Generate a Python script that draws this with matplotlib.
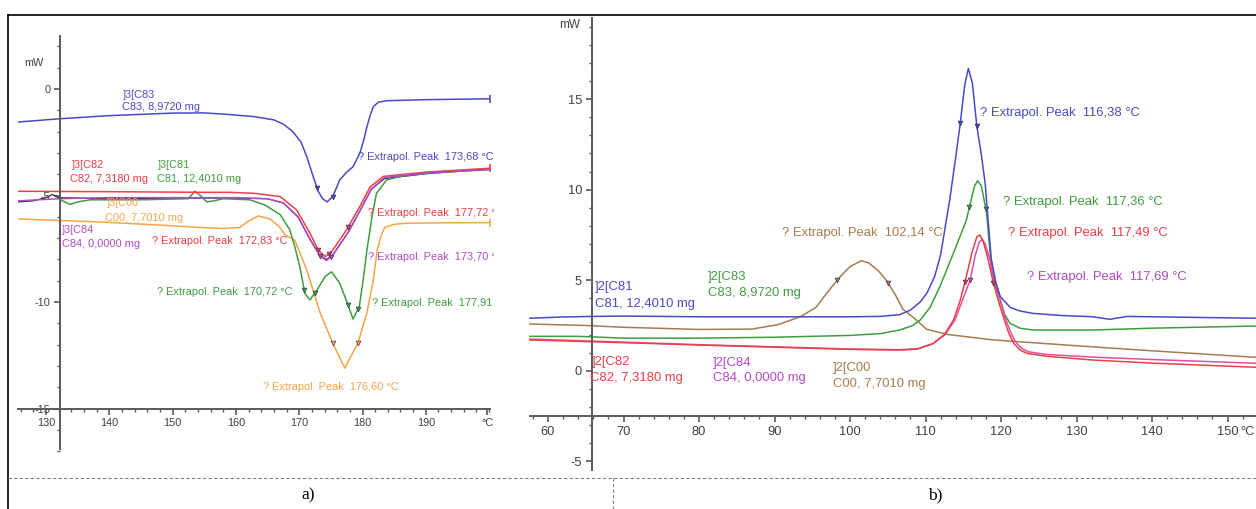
import numpy as np
import matplotlib.pyplot as plt
from matplotlib.lines import Line2D
from matplotlib.ticker import MultipleLocator

plt.rcParams['font.family'] = ['Liberation Sans', 'DejaVu Sans']
plt.rcParams['axes.unicode_minus'] = False

# ---------- панель a) : плавление, 125..200 °C ----------
c83_a_t = [125.6, 132, 140, 150, 155, 159, 163, 166, 167.5, 169, 170.3, 171.2, 172.2, 173, 173.7,
           174.4, 175.3, 176.4, 177.5, 178.5, 179.6, 180.2, 180.7, 181.2, 181.7, 182.5, 183.8, 190, 200.1]
c83_a_mw = [-1.55, -1.4, -1.25, -1.13, -1.12, -1.2, -1.3, -1.45, -1.65, -2.0, -2.5, -3.18, -4.1, -4.8, -5.15,
            -5.3, -5.05, -4.27, -3.9, -3.65, -3.0, -2.4, -1.77, -1.25, -0.83, -0.62, -0.55, -0.5, -0.46]

c82_a_t = [125.6, 140, 155, 159, 163, 167, 169.6, 171.7, 173, 174.1, 175.2, 175.9, 177.5, 179.6, 181.2,
           183.3, 190, 200.1]
c82_a_mw = [-4.8, -4.82, -4.85, -4.85, -4.9, -5.05, -5.68, -6.77, -7.56, -7.87, -7.6, -7.3, -6.6, -5.5, -4.6,
            -4.1, -3.9, -3.72]

c84_a_t = [125.6, 132, 140, 150, 160, 165, 167.5, 169.8, 171.8, 173.2, 174.3, 175.3, 176.2, 177.8, 179.8,
           181.4, 183.5, 190, 200.1]
c84_a_mw = [-5.25, -5.15, -5.1, -5.1, -5.1, -5.15, -5.35, -6.0, -7.1, -7.8, -8.05, -7.8, -7.4, -6.7, -5.6,
            -4.7, -4.15, -3.95, -3.78]

# тёмная кривая, почти совпадающая с C84
base_a_t = [125.6, 128, 130, 131, 132, 140, 150, 160, 165, 167.5, 169.8, 171.8, 173.2, 174.3, 175.3,
            176.2, 177.8, 179.8, 181.4, 183.5, 190, 200.1]
base_a_mw = [-5.3, -5.25, -5.1, -4.95, -5.1, -5.15, -5.12, -5.12, -5.15, -5.35, -6.0, -7.1, -7.8, -8.0, -7.8,
             -7.4, -6.7, -5.6, -4.7, -4.2, -3.98, -3.74]

c81_a_t = [132.2, 133, 133.8, 135, 137, 145, 152.5, 153.5, 154.4, 155.4, 156.5, 158, 162.2, 164.6, 167,
           168.5, 169.3, 170.1, 170.9, 171.7, 172.8, 174.1, 175.1, 176.4, 177.8, 178.5, 179.5, 180.1, 180.7,
           181.5, 182.2, 183.8, 186, 190, 200.1]
c81_a_mw = [-5.2, -5.3, -5.42, -5.3, -5.2, -5.2, -5.15, -4.8, -5.0, -5.3, -5.25, -5.15, -5.2, -5.45, -5.9,
            -6.6, -7.4, -8.34, -9.6, -9.9, -9.44, -8.8, -8.58, -9.12, -10.2, -10.8, -10.2, -8.97, -7.56,
            -6.0, -4.9, -4.27, -4.1, -3.95, -3.78]

c00_a_t = [125.6, 138.5, 150, 154.3, 158, 160.6, 162, 163.5, 165.4, 166.8, 167.8, 169.3, 171.2, 173.3, 175.4,
           177.2, 179.3, 180.7, 181.7, 182.3, 182.9, 183.5, 185, 187, 193, 200.1]
c00_a_mw = [-6.1, -6.24, -6.42, -6.5, -6.55, -6.5, -6.2, -5.96, -6.1, -6.45, -6.85, -7.1, -8.5, -10.5, -12.0,
            -13.1, -11.9, -10.5, -8.97, -7.6, -6.9, -6.5, -6.35, -6.3, -6.28, -6.27]

# границы пиков (маркеры)
c83_a_marks = [172.8, 175.3]
c82_a_marks = [173.0, 174.7, 177.7]
c84_a_marks = [173.3, 175.0]
c81_a_marks = [170.8, 172.5, 177.7, 179.3]
c00_a_marks = [175.3, 179.3]

# ---------- панель b) : кристаллизация, 57..154 °C ----------
c81_b_t = [57.6, 62, 66, 70, 80, 90, 100, 104, 106.6, 108, 109.3, 110.2, 111.2, 112.0, 113.2, 114.0, 114.6,
           115.2, 115.67, 116.2, 116.8, 117.4, 117.9, 118.7, 119.3, 119.9, 121.2, 122.5, 124.2, 128, 132.2,
           134.4, 136.7, 145, 153.8]
c81_b_mw = [2.9, 2.97, 3.0, 3.02, 2.98, 2.98, 2.98, 3.0, 3.1, 3.35, 3.8, 4.3, 5.2, 6.4, 9.43, 11.8, 13.67,
            15.8, 16.7, 15.9, 13.5, 11.9, 10.35, 6.2, 4.9, 4.1, 3.5, 3.3, 3.17, 3.05, 2.98,
            2.84, 3.0, 2.95, 2.9]

c83_b_t = [57.6, 64, 67, 70, 80, 90, 100, 104, 106.6, 108.3, 109.3, 110.6, 111.9, 113.7, 115.4, 115.9, 116.5,
           116.9, 117.4, 118.1, 118.7, 119.3, 119.9, 120.5, 121.2, 122.5, 124.2, 132.2, 140, 153.8]
c83_b_mw = [1.9, 1.9, 1.85, 1.8, 1.8, 1.85, 1.95, 2.05, 2.25, 2.5, 2.8, 3.5, 4.64, 6.5, 8.3, 9.2, 10.2,
            10.5, 10.2, 8.7, 5.75, 4.6, 3.9, 3.1, 2.62, 2.35, 2.25, 2.25, 2.35, 2.47]

c82_b_t = [57.6, 70, 80, 90, 100, 106.6, 109, 111, 112.5, 113.7, 114.6, 115.4, 116.2, 116.8, 117.2, 117.6,
           118.2, 119, 119.7, 120.3, 121.0, 121.7, 122.5, 123.4, 126, 132.2, 140, 153.8]
c82_b_mw = [1.7, 1.55, 1.42, 1.3, 1.18, 1.14, 1.2, 1.5, 2.0, 2.8, 3.9, 5.2, 6.6, 7.4, 7.5, 7.2,
            6.3, 4.83, 3.8, 2.98, 2.1, 1.5, 1.15, 0.96, 0.8, 0.59, 0.42, 0.19]

c84_b_t = [57.6, 70, 80, 90, 100, 106.6, 109, 111, 112.6, 113.9, 114.9, 115.9, 116.6, 117.1, 117.5, 117.9,
           118.5, 119.2, 119.9, 120.5, 121.2, 121.9, 122.7, 123.6, 126, 132.2, 140, 153.8]
c84_b_mw = [1.75, 1.58, 1.44, 1.32, 1.2, 1.16, 1.22, 1.5, 2.0, 2.8, 3.9, 5.0, 6.4, 7.1, 7.25, 7.0,
            6.2, 4.9, 3.9, 3.0, 2.2, 1.6, 1.25, 1.05, 0.9, 0.75, 0.62, 0.41]

c00_b_t = [57.6, 65, 70, 80, 87, 90.5, 93.4, 95.5, 96.9, 98.7, 100, 101.5, 102.5, 103.8, 104.8, 106, 107,
           108.8, 110.1, 111, 113, 115.4, 119, 130, 140, 153.8]
c00_b_mw = [2.58, 2.5, 2.4, 2.28, 2.3, 2.55, 2.98, 3.5, 4.28, 5.2, 5.75, 6.08, 5.95, 5.5, 5.0, 4.2, 3.4,
            2.8, 2.3, 2.2, 2.0, 1.88, 1.7, 1.38, 1.1, 0.74]

c81_b_marks = [114.6, 116.8]
c83_b_marks = [115.8, 118.0]
c82_b_marks = [115.2, 119.0]
c84_b_marks = [115.9]
c00_b_marks = [98.3, 105.0]

BLUE = '#4a4ac4'
RED = '#ea3f48'
GREEN = '#3e9e3e'
ORANGE = '#f5a546'
PURPLE = '#b24ac6'
PINK = '#de4fa2'
BROWN = '#a77b4f'
AXIS = '#5a5a5a'
TXT = '#404040'

W, H = 1256, 509
fig = plt.figure(figsize=(W / 100, H / 100), dpi=100)


def rect(x0, y0, x1, y1):
    return [x0 / W, 1 - y1 / H, (x1 - x0) / W, (y1 - y0) / H]


def style_axes(ax, xcross, ycross, ybounds, xbounds, fs):
    for s in ('top', 'right'):
        ax.spines[s].set_visible(False)
    ax.spines['left'].set_position(('data', xcross))
    ax.spines['bottom'].set_position(('data', ycross))
    ax.spines['left'].set_bounds(*ybounds)
    ax.spines['bottom'].set_bounds(*xbounds)
    for s in ('left', 'bottom'):
        ax.spines[s].set_color(AXIS)
        ax.spines[s].set_linewidth(1.4)
    ax.tick_params(which='both', colors=AXIS, labelcolor=TXT, labelsize=fs, direction='out')
    ax.tick_params(which='major', length=4.5, width=1.2, pad=2.5)
    ax.tick_params(which='minor', length=2.5, width=1.0)
    ax.patch.set_visible(False)


def curve(ax, t, mw, color, marks=None, end=False, lw=1.1):
    ax.plot(t, mw, color=color, lw=lw)
    if marks:
        ax.plot(marks, np.interp(marks, t, mw), 'v', color=color, ms=3.5, mec='#202050', mew=0.4)
    if end:
        ax.plot(t[-1], mw[-1], '|', color=color, ms=6, mew=1.2)


# ---------- a) ----------
ax = fig.add_axes(rect(18, 30, 494, 455))
ax.set_xlim(125.58, 200.77)
ax.set_ylim(-17.18, 2.77)
style_axes(ax, 132.2, -15, (-16.9, 2.5), (125.6, 200.1), 7.8)
ax.set_xticks([130, 140, 150, 160, 170, 180, 190, 199.7], ['130', '140', '150', '160', '170', '180', '190', '°C'])
ax.xaxis.set_minor_locator(MultipleLocator(2))
ax.set_yticks([0, -5, -10, -15], ['0', '-5', '-10', '-15'])
ax.yaxis.set_minor_locator(MultipleLocator(1))
ax.text(129.6, 1.22, 'mW', ha='right', va='center', fontsize=7.8, color=TXT)

curve(ax, base_a_t, base_a_mw, '#303030', lw=0.9)
curve(ax, c00_a_t, c00_a_mw, ORANGE, c00_a_marks, end=True)
curve(ax, c81_a_t, c81_a_mw, GREEN, c81_a_marks)
curve(ax, c82_a_t, c82_a_mw, RED, c82_a_marks, end=True)
curve(ax, c84_a_t, c84_a_mw, PURPLE, c84_a_marks)
curve(ax, c83_a_t, c83_a_mw, BLUE, c83_a_marks, end=True)

fa = 7.9
labels_a = [
    (142.16, -0.28, ']3[C83', BLUE), (142.0, -0.85, 'C83, 8,9720 mg', BLUE),
    (179.29, -3.19, '? Extrapol. Peak  173,68 °C', BLUE),
    (134.1, -3.57, ']3[C82', RED), (133.8, -4.23, 'C82, 7,3180 mg', RED),
    (147.7, -3.57, ']3[C81', GREEN), (147.5, -4.23, 'C81, 12,4010 mg', GREEN),
    (139.6, -5.35, ']3[C00', ORANGE), (139.3, -6.06, 'C00, 7,7010 mg', ORANGE),
    (132.5, -6.62, ']3[C84', PURPLE), (132.5, -7.28, 'C84, 0,0000 mg', PURPLE),
    (146.75, -7.14, '? Extrapol. Peak  172,83 °C', RED),
    (180.87, -5.82, '? Extrapol. Peak  177,72 °C', RED),
    (180.87, -7.89, '? Extrapol. Peak  173,70 °C', PURPLE),
    (147.5, -9.53, '? Extrapol. Peak  170,72 °C', GREEN),
    (181.5, -10.05, '? Extrapol. Peak  177,91 °C', GREEN),
    (164.28, -13.99, '? Extrapol. Peak  176,60 °C', ORANGE),
]
for x, y, s, c in labels_a:
    ax.text(x, y, s, color=c, fontsize=fa, ha='left', va='center', clip_on=True)

# ---------- b) ----------
bx = fig.add_axes(rect(528, 17, 1256, 475))
bx.set_xlim(57.35, 153.77)
bx.set_ylim(-5.76, 19.54)
style_axes(bx, 65.8, -2.5, (-5.5, 19.5), (57.6, 153.8), 9.3)
bx.set_xticks(range(60, 151, 10))
bx.xaxis.set_minor_locator(MultipleLocator(2))
bx.set_yticks([-5, 0, 5, 10, 15], ['-5', '0', '5', '10', '15'])
bx.yaxis.set_minor_locator(MultipleLocator(1))
bx.text(64.24, 19.1, 'mW', ha='right', va='center', fontsize=8.5, color=TXT)
bx.annotate('°C', (152.7, -2.5), xytext=(0, -7), textcoords='offset points',
            ha='center', va='top', fontsize=9.3, color=TXT)

curve(bx, c00_b_t, c00_b_mw, BROWN, c00_b_marks)
curve(bx, c83_b_t, c83_b_mw, GREEN, c83_b_marks)
curve(bx, c84_b_t, c84_b_mw, PINK, c84_b_marks)
curve(bx, c82_b_t, c82_b_mw, RED, c82_b_marks)
curve(bx, c81_b_t, c81_b_mw, BLUE, c81_b_marks)

fb = 9.4
labels_b = [
    (117.22, 14.24, '? Extrapol. Peak  116,38 °C', BLUE),
    (120.26, 9.32, '? Extrapol. Peak  117,36 °C', GREEN),
    (120.93, 7.61, '? Extrapol. Peak  117,49 °C', RED),
    (90.99, 7.61, '? Extrapol. Peak  102,14 °C', BROWN),
    (123.44, 5.18, '? Extrapol. Peak  117,69 °C', PURPLE),
    (66.23, 4.62, ']2[C81', BLUE), (66.23, 3.69, 'C81, 12,4010 mg', BLUE),
    (81.19, 5.18, ']2[C83', GREEN), (81.19, 4.29, 'C83, 8,9720 mg', GREEN),
    (65.83, 0.48, ']2[C82', RED), (65.56, -0.40, 'C82, 7,3180 mg', RED),
    (81.85, 0.43, ']2[C84', PURPLE), (81.85, -0.40, 'C84, 0,0000 mg', PURPLE),
    (97.75, 0.15, ']2[C00', BROWN), (97.75, -0.73, 'C00, 7,7010 mg', BROWN),
]
for x, y, s, c in labels_b:
    bx.text(x, y, s, color=c, fontsize=fb, ha='left', va='center', clip_on=True)

# ---------- рамка и подписи a), b) ----------
fig.add_artist(Line2D([8 / W, 1], [1 - 15 / H] * 2, color='black', lw=1.2))
fig.add_artist(Line2D([8 / W] * 2, [0, 1 - 15 / H], color='black', lw=1.2))
fig.add_artist(Line2D([8 / W, 1], [1 - 478 / H] * 2, color='#808080', lw=0.8, ls=(0, (3, 2))))
fig.add_artist(Line2D([613 / W] * 2, [0, 1 - 478 / H], color='#808080', lw=0.8, ls=(0, (3, 2))))
fig.text(308 / W, 1 - 495 / H, 'a)', family='Liberation Serif', fontsize=12.5, ha='center', va='center')
fig.text(935 / W, 1 - 495 / H, 'b)', family='Liberation Serif', fontsize=12.5, ha='center', va='center')

fig.savefig('out.png', dpi=100)
